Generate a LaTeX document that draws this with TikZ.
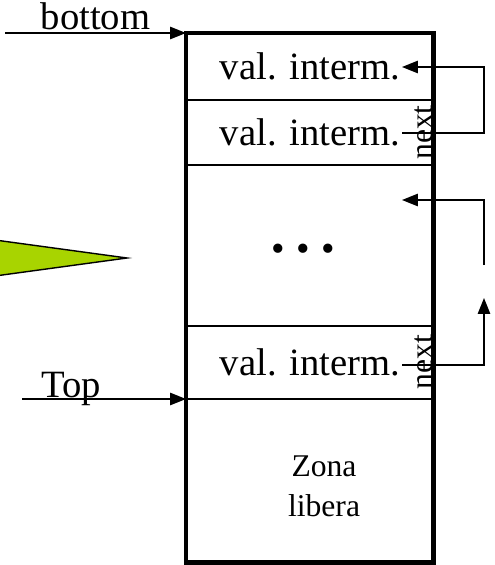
\documentclass[tikz,border=0pt]{standalone}
\usepackage{fontspec}
\setmainfont{Liberation Serif}
\usetikzlibrary{arrows.meta,positioning}
\definecolor{lime}{RGB}{168,212,0}

\begin{document}
\begin{tikzpicture}[x=0.02cm,y=-0.02cm,
    cell/.style={draw,line width=1.1pt,minimum width=4.96cm,inner sep=0pt,outer sep=0pt},
    ptr/.style={line width=0.9pt,-{Triangle[length=9pt,width=7pt]}},
    lbl/.style={font=\fontsize{22}{24}\selectfont},
    nxt/.style={font=\fontsize{18}{20}\selectfont,rotate=90,inner sep=0pt}]
    \useasboundingbox (0,0) rectangle (494,565);
    % the record cells of the stack
    \node[cell,minimum height=1.34cm,anchor=north west,lbl] (c1) at (186,33) {val. interm.};
    \node[cell,minimum height=1.30cm,below=0pt of c1,lbl] (c2) {val. interm.};
    \node[cell,minimum height=3.22cm,below=0pt of c2] (c3) {};
    \node[cell,minimum height=1.46cm,below=0pt of c3,lbl,text depth=-4pt] (c4) {val. interm.};
    \node[cell,minimum height=3.28cm,below=0pt of c4] (c5) {};
    \draw[line width=2.8pt] (c1.north west) rectangle (c5.south east);
    \node[lbl] (dots) at ([xshift=-4pt,yshift=-4pt]c3.center) {\textbullet\hspace{0.3em}\textbullet\hspace{0.3em}\textbullet};
    \node[align=center,font=\fontsize{18}{23}\selectfont] (free) at ([xshift=8pt,yshift=-3pt]c5.center) {Zona\\libera};
    \node[nxt] at ([xshift=-6pt]c2.east) {next};
    \node[nxt] at ([xshift=-6pt]c4.east) {next};
    % links between the records
    \coordinate (n2) at (402,133);
    \coordinate (v1) at (402,67);
    \coordinate (n4) at (402,365);
    \coordinate (up) at (484,298);
    \coordinate (lo) at (484,265);
    \coordinate (v3) at (402,200);
    \draw[ptr] (n2) -- (n2 -| lo) |- (v1);
    \draw[ptr] (n4) -| (up);
    \draw[ptr] (lo) |- (v3);
    % external pointers
    \coordinate (b0) at (5,33);
    \coordinate (t0) at (22,399);
    \draw[ptr] (b0) -- (b0 -| c1.west) node[pos=0.5,anchor=base,yshift=2pt,lbl] {bottom};
    \draw[ptr] (t0) -- (t0 -| c5.west) node[pos=0.3,anchor=base,yshift=1pt,lbl] {Top};
    % green pointer
    \filldraw[fill=lime,line width=0.8pt] (-5,240) -- (127,258) -- (-5,276);
\end{tikzpicture}
\end{document}
